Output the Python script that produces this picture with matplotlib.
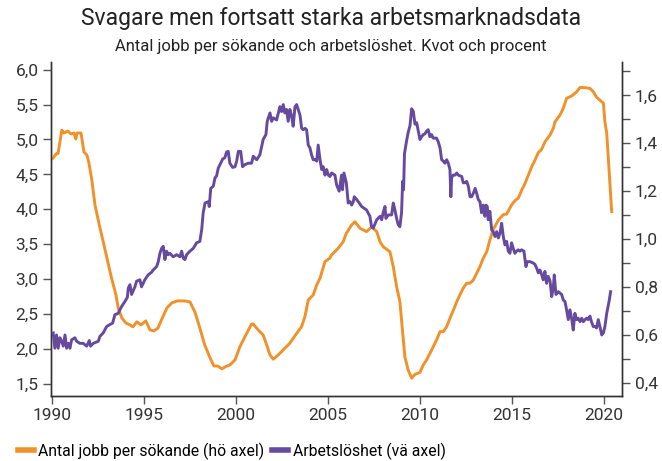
import matplotlib
matplotlib.use("Agg")
import matplotlib.pyplot as plt
from matplotlib.ticker import MultipleLocator, FuncFormatter
from matplotlib.lines import Line2D

# ---- data ----
unemp_year = [1990.07,1990.16,1990.25,1990.34,1990.43,1990.53,1990.62,1990.71,1990.80,1990.89,1990.98,
    1991.07,1991.25,1991.34,1991.52,1991.70,1991.89,1992.03,1992.10,1992.25,1992.52,1992.61,1992.79,1992.97,
    1993.15,1993.30,1993.42,1993.60,1993.79,1993.97,1994.10,1994.15,1994.24,1994.33,1994.51,1994.60,1994.78,
    1994.87,1995.05,1995.23,1995.42,1995.50,1995.69,1995.78,1995.87,1995.96,1996.05,1996.14,1996.23,1996.32,
    1996.41,1996.59,1996.78,1996.96,1997.05,1997.14,1997.23,1997.32,1997.50,1997.68,1997.86,1998.04,1998.14,
    1998.22,1998.32,1998.50,1998.55,1998.63,1998.77,1998.86,1998.95,1999.04,1999.13,1999.28,1999.40,1999.49,
    1999.58,1999.67,1999.82,1999.95,2000.04,2000.13,2000.26,2000.36,2000.49,2000.67,2000.85,2000.94,2001.13,
    2001.30,2001.48,2001.63,2001.70,2001.85,2001.94,2002.03,2002.21,2002.39,2002.48,2002.57,2002.66,2002.75,
    2002.84,2002.93,2003.03,2003.11,2003.21,2003.30,2003.48,2003.57,2003.66,2003.75,2003.84,2003.93,2004.02,
    2004.11,2004.20,2004.29,2004.39,2004.47,2004.57,2004.66,2004.74,2004.84,2004.93,2005.02,2005.11,2005.20,
    2005.38,2005.47,2005.61,2005.74,2005.79,2005.87,2006.00,2006.10,2006.20,2006.29,2006.38,2006.43,2006.56,
    2006.70,2006.83,2007.10,2007.28,2007.37,2007.46,2007.65,2007.83,2007.92,2008.00,2008.10,2008.15,2008.28,
    2008.46,2008.55,2008.64,2008.73,2008.82,2008.91,2009.00,2009.06,2009.11,2009.16,2009.28,2009.36,2009.46,
    2009.55,2009.64,2009.73,2009.82,2009.91,2010.00,2010.09,2010.18,2010.27,2010.36,2010.45,2010.54,2010.63,
    2010.72,2010.90,2010.99,2011.09,2011.18,2011.27,2011.36,2011.45,2011.54,2011.63,2011.68,2011.72,2011.80,
    2011.90,2012.00,2012.08,2012.27,2012.35,2012.45,2012.54,2012.63,2012.72,2012.81,2012.90,2013.00,2013.08,
    2013.17,2013.26,2013.35,2013.44,2013.53,2013.59,2013.66,2013.71,2013.80,2013.90,2013.98,2014.08,2014.17,
    2014.26,2014.35,2014.44,2014.53,2014.62,2014.71,2014.80,2014.89,2014.98,2015.07,2015.16,2015.25,2015.34,
    2015.43,2015.52,2015.65,2015.76,2015.83,2015.98,2016.16,2016.25,2016.34,2016.43,2016.52,2016.62,2016.70,
    2016.79,2016.88,2016.97,2017.07,2017.16,2017.25,2017.30,2017.39,2017.52,2017.61,2017.70,2017.79,2017.88,
    2017.97,2018.06,2018.15,2018.24,2018.33,2018.42,2018.51,2018.60,2018.70,2018.79,2018.88,2018.97,2019.06,
    2019.14,2019.24,2019.32,2019.42,2019.51,2019.60,2019.69,2019.78,2019.88,2019.97,2020.05,2020.15,2020.29,
    2020.36]
unemp_value = [2.23,2.01,2.20,2.01,2.16,2.11,2.04,2.20,2.01,2.08,2.01,
    2.13,2.16,2.11,2.08,2.08,2.04,2.12,2.04,2.08,2.11,2.18,2.23,2.32,
    2.35,2.37,2.49,2.51,2.61,2.68,2.74,2.87,2.92,2.78,2.89,2.97,2.99,
    2.89,2.99,3.06,3.10,3.13,3.18,3.25,3.37,3.44,3.47,3.28,3.40,3.35,
    3.37,3.32,3.35,3.32,3.40,3.30,3.28,3.35,3.40,3.44,3.52,3.54,3.71,
    3.95,4.09,4.11,4.04,4.30,4.33,4.45,4.48,4.59,4.64,4.72,4.74,4.82,
    4.83,4.66,4.60,4.61,4.69,4.83,4.83,4.61,4.64,4.66,4.66,4.76,4.71,
    4.78,5.00,5.07,5.26,5.38,5.26,5.31,5.28,5.47,5.40,5.50,5.38,5.43,
    5.26,5.43,5.33,5.19,5.47,5.50,5.35,5.16,5.14,5.16,5.14,4.92,4.88,
    4.78,4.71,4.71,4.69,4.92,4.71,4.57,4.61,4.49,4.57,4.49,4.47,4.52,
    4.49,4.35,4.26,4.49,4.28,4.52,4.38,4.09,4.11,4.06,4.11,4.18,4.14,
    4.09,4.04,3.99,3.90,3.75,3.73,3.85,3.90,3.85,3.95,4.04,3.87,3.92,
    3.92,4.09,3.99,3.87,3.78,3.75,3.95,4.40,4.28,4.80,4.99,5.10,5.20,
    5.44,5.40,5.22,5.24,5.12,5.00,5.04,5.07,5.08,5.12,5.14,5.04,5.07,
    5.02,5.02,4.97,4.88,4.71,4.69,4.66,4.71,4.66,4.57,4.18,4.45,4.49,
    4.49,4.52,4.49,4.47,4.38,4.38,4.40,4.33,4.18,4.18,4.23,4.30,4.23,
    4.14,4.11,3.95,4.06,3.90,4.06,4.04,3.85,3.97,3.70,3.68,3.61,3.68,
    3.59,3.66,3.80,3.61,3.49,3.54,3.40,3.37,3.52,3.44,3.37,3.40,3.42,
    3.40,3.42,3.40,3.18,3.25,3.25,3.23,3.21,3.16,3.09,3.13,3.06,2.99,
    3.11,2.94,3.04,2.97,2.75,2.89,3.06,2.78,2.82,2.80,2.78,2.70,2.68,
    2.56,2.42,2.56,2.44,2.27,2.51,2.42,2.44,2.39,2.44,2.39,2.42,2.44,
    2.42,2.47,2.39,2.32,2.32,2.30,2.42,2.32,2.20,2.23,2.32,2.51,2.70,
    2.82]

jobs_year = [1990.04,1990.26,1990.33,1990.54,1990.65,1990.87,1991.03,1991.20,1991.30,1991.36,1991.58,
    1991.74,1991.90,1992.00,1992.17,1992.34,1992.60,1992.83,1993.24,1993.48,1993.60,1993.80,1994.02,1994.24,
    1994.40,1994.62,1994.84,1995.10,1995.33,1995.54,1995.76,1996.00,1996.25,1996.52,1996.80,1997.23,1997.50,
    1997.77,1998.04,1998.30,1998.60,1998.80,1999.00,1999.24,1999.46,1999.67,1999.95,2000.22,2000.49,2000.85,
    2000.94,2001.21,2001.48,2001.67,2001.85,2002.03,2002.30,2002.66,2002.93,2003.30,2003.57,2003.75,2003.93,
    2004.20,2004.39,2004.57,2004.84,2005.10,2005.20,2005.56,2005.83,2006.00,2006.29,2006.47,2006.74,2007.10,
    2007.38,2007.65,2007.83,2008.00,2008.37,2008.55,2008.73,2008.91,2009.00,2009.18,2009.36,2009.55,2009.73,
    2010.00,2010.18,2010.36,2010.64,2010.90,2011.09,2011.27,2011.45,2011.63,2011.82,2012.00,2012.17,2012.35,
    2012.54,2012.72,2012.90,2013.08,2013.26,2013.44,2013.63,2013.80,2013.98,2014.26,2014.53,2014.71,2014.98,
    2015.16,2015.34,2015.53,2015.71,2015.89,2016.07,2016.25,2016.43,2016.61,2016.80,2017.07,2017.25,2017.34,
    2017.61,2017.79,2017.97,2018.24,2018.52,2018.70,2018.97,2019.24,2019.42,2019.60,2019.88,2019.97,2020.05,
    2020.15,2020.23,2020.33,2020.42]
jobs_value = [1.337,1.358,1.357,1.455,1.443,1.451,1.439,1.443,1.418,1.443,1.443,
    1.364,1.351,1.322,1.247,1.143,1.051,0.976,0.838,0.768,0.714,0.672,0.651,0.643,
    0.635,0.656,0.643,0.660,0.622,0.618,0.630,0.672,0.714,0.735,0.743,0.743,0.739,
    0.697,0.630,0.560,0.505,0.472,0.472,0.460,0.470,0.476,0.497,0.553,0.594,0.647,
    0.647,0.622,0.601,0.560,0.518,0.500,0.518,0.546,0.567,0.608,0.636,0.678,0.747,
    0.768,0.810,0.838,0.907,0.921,0.935,0.963,0.990,1.025,1.060,1.073,1.046,1.032,
    1.052,1.032,0.990,0.969,0.948,0.886,0.803,0.740,0.664,0.510,0.455,0.421,0.437,
    0.445,0.476,0.497,0.539,0.580,0.615,0.615,0.636,0.671,0.705,0.740,0.768,0.796,
    0.817,0.817,0.830,0.858,0.886,0.921,0.948,0.997,1.040,1.080,1.103,1.105,1.143,
    1.161,1.171,1.205,1.233,1.268,1.302,1.330,1.361,1.375,1.407,1.435,1.463,1.490,
    1.518,1.546,1.588,1.597,1.615,1.633,1.632,1.629,1.615,1.592,1.573,1.567,1.490,
    1.442,1.344,1.220,1.115]

title = "Svagare men fortsatt starka arbetsmarknadsdata"
subtitle = "Antal jobb per sökande och arbetslöshet. Kvot och procent"
label_jobs = "Antal jobb per sökande (hö axel)"
label_unemp = "Arbetslöshet (vä axel)"
x_ticks = [1990, 1995, 2000, 2005, 2010, 2015, 2020]

ORANGE = "#F0912A"
PURPLE = "#654AA0"

plt.rcParams["font.family"] = ["Roboto", "DejaVu Sans"]

fig = plt.figure(figsize=(6.62, 4.61), dpi=100)
ax = fig.add_axes([51/662, 65.3/461, 571/662, 333.7/461])
ax2 = ax.twinx()

ax.plot(unemp_year, unemp_value, color=PURPLE, lw=2.1, solid_joinstyle="round", zorder=3)
ax2.plot(jobs_year, jobs_value, color=ORANGE, lw=2.1, solid_joinstyle="round", zorder=3)
ax.set_zorder(ax2.get_zorder() + 1)
ax.patch.set_visible(False)

ax.set_xlim(1989.95, 2020.98)
ax.set_ylim(1.33, 6.11)
ax2.set_ylim(0.348, 1.739)

ax.set_xticks(x_ticks)
ax.yaxis.set_major_locator(MultipleLocator(0.5))
ax2.yaxis.set_major_locator(MultipleLocator(0.2))
ax2.yaxis.set_minor_locator(MultipleLocator(0.1))
comma = FuncFormatter(lambda v, p: f"{v:.1f}".replace(".", ","))
ax.yaxis.set_major_formatter(comma)
ax2.yaxis.set_major_formatter(comma)

for a in (ax, ax2):
    a.spines["top"].set_visible(False)
    for s in ("left", "right", "bottom"):
        a.spines[s].set_color("#333333")
        a.spines[s].set_linewidth(1.0)
ax.tick_params(axis="both", which="major", length=6, width=1, color="#555555",
               labelsize=12.5, labelcolor="#333333", pad=3)
ax2.tick_params(axis="y", which="major", length=6, width=1, color="#555555",
                labelsize=12.5, labelcolor="#333333", pad=3)
ax2.tick_params(axis="y", which="minor", length=6, width=1, color="#555555")

fig.text(0.5, 1 - 19/461, title, ha="center", va="center", fontsize=16.5,
         color="#222222")
fig.text(0.5, 1 - 46/461, subtitle, ha="center", va="center", fontsize=12,
         color="#222222")

handles = [Line2D([0], [0], color=ORANGE, lw=4), Line2D([0], [0], color=PURPLE, lw=4)]
fig.legend(handles, [label_jobs, label_unemp], loc="center left",
           bbox_to_anchor=(18/662, 1 - 451/461), ncol=2, frameon=False,
           fontsize=11.3, handlelength=1.0, handletextpad=0.3, columnspacing=0.5,
           borderaxespad=0, borderpad=0)

fig.savefig("out.png", dpi=100)
